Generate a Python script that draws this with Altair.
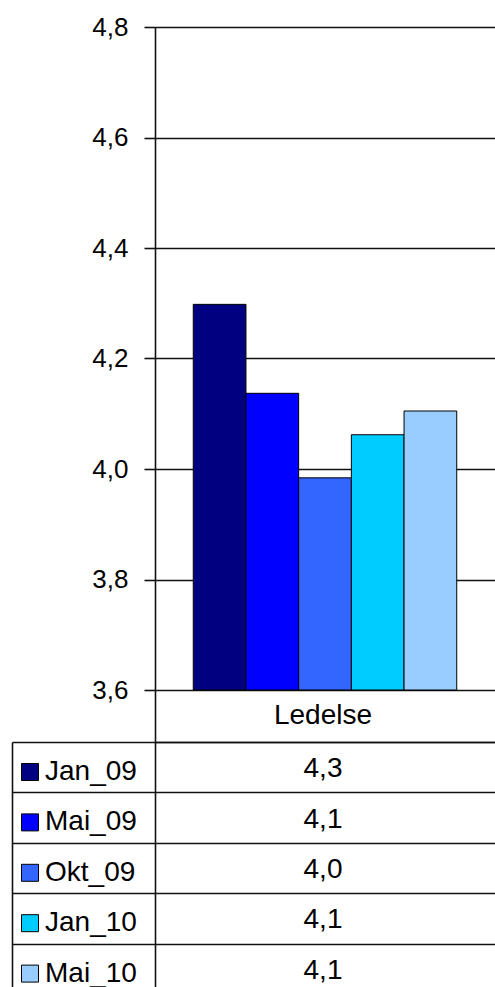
import altair as alt
import pandas as pd

# ---- data -------------------------------------------------------------
series = ["Jan_09", "Mai_09", "Okt_09", "Jan_10", "Mai_10"]
values = [4.298, 4.137, 3.984, 4.062, 4.105]
colors = ["#000080", "#0000FF", "#3366FF", "#00CCFF", "#99CCFF"]
category = "Ledelse"
y_ticks = [3.6, 3.8, 4.0, 4.2, 4.4, 4.6, 4.8]
y_domain = [3.6, 4.8]

df = pd.DataFrame({"serie": series, "verdi": values, "kategori": [category] * len(series)})

FONT = "Liberation Sans"
LINE = "#111111"
LW = 1.6
comma_fmt = "replace(format(datum.value, '.1f'), '.', ',')"

color_scale = alt.Scale(domain=series, range=colors)
W = 340            # plot width (bars and table column)
H_PLOT = 663       # bar plot height (3,6 .. 4,8)
HEADER = 52        # header row of the data table ("Ledelse")
H_TABLE = 245      # visible part of the data table rows
ROW_H = 50.4       # height of one table row (last row is cut by the page)
TEXT_SHIFT = -2    # table texts sit slightly left of the column centre

# the value axis continues through the header cell of the data table
y_low = y_domain[0] - (y_domain[1] - y_domain[0]) * HEADER / H_PLOT

# ---- bar chart ---------------------------------------------------------
bars = alt.Chart(df).mark_bar(stroke="black", strokeWidth=1).encode(
    x=alt.X(
        "kategori:N",
        scale=alt.Scale(paddingInner=0, paddingOuter=0),
        axis=alt.Axis(
            title=None, labelAngle=0, labelFont=FONT, labelFontSize=28,
            labelColor="black", labelBaseline="middle", labelPadding=-HEADER / 2 - 1,
            labelOffset=TEXT_SHIFT,
            domainColor=LINE, domainWidth=LW, ticks=False, tickSize=0,
        ),
    ),
    xOffset=alt.XOffset(
        "serie:N", sort=series,
        scale=alt.Scale(paddingInner=0, paddingOuter=0.726),
    ),
    y=alt.Y(
        "verdi:Q",
        scale=alt.Scale(domain=[y_low, y_domain[1]], zero=False, nice=False),
        axis=alt.Axis(
            title=None, values=y_ticks, labelExpr=comma_fmt,
            labelFont=FONT, labelFontSize=26, labelColor="black",
            labelPadding=16, tickSize=11, tickColor=LINE, tickWidth=LW,
            domainColor=LINE, domainWidth=LW,
            grid=True, gridColor=LINE, gridWidth=LW,
        ),
    ),
    y2=alt.Y2(datum=y_domain[0]),
    color=alt.Color(
        "serie:N", sort=series, scale=color_scale,
        legend=alt.Legend(
            title=None, orient="none", legendX=-139, legendY=731,
            direction="vertical", symbolType="square", symbolSize=289,
            symbolStrokeColor="black", symbolStrokeWidth=1,
            labelFont=FONT, labelFontSize=28, labelColor="black",
            labelOffset=1, rowPadding=ROW_H - 28, padding=0,
        ),
    ),
).properties(width=W, height=H_PLOT + HEADER)

# ---- data table --------------------------------------------------------
n_rows = len(series)
row_scale = alt.Scale(domain=[0, H_TABLE / ROW_H], reverse=True, zero=False, nice=False)
row_axis = alt.Axis(
    title=None, labels=False, values=list(range(n_rows)),
    domainColor=LINE, domainWidth=LW,
    ticks=True, tickSize=143, tickColor=LINE, tickWidth=LW,
    grid=True, gridColor=LINE, gridWidth=LW,
)
border_axis = alt.Axis(
    title=None, labels=False, ticks=False, grid=False, orient="left",
    offset=143, domainColor=LINE, domainWidth=LW,
)

table_base = alt.Chart(df).transform_window(
    rad="row_number()"
).transform_calculate(
    midt="datum.rad - 0.5",
    tekst="replace(format(datum.verdi, '.1f'), '.', ',')",
)

table_values = table_base.mark_text(
    font=FONT, fontSize=28, color="black", baseline="middle", align="center",
    dy=2, dx=TEXT_SHIFT,
).encode(
    x=alt.X("kategori:N", scale=alt.Scale(paddingInner=0, paddingOuter=0), axis=None),
    y=alt.Y("midt:Q", scale=row_scale, axis=row_axis),
    text="tekst:N",
)
table_border = table_base.mark_text(opacity=0).encode(
    x=alt.X("kategori:N", scale=alt.Scale(paddingInner=0, paddingOuter=0), axis=None),
    y=alt.Y("midt:Q", scale=row_scale, axis=border_axis),
    text="tekst:N",
)

table = alt.layer(table_values, table_border).resolve_axis(y="independent").properties(
    width=W, height=H_TABLE
)

chart = alt.vconcat(bars, table, spacing=0, bounds="flush").properties(
    padding={"left": 11, "top": 14, "right": 0, "bottom": 0},
    background="white",
).configure_view(stroke=None)

chart.save("out.html", embed_options={"renderer": "svg", "actions": False})
